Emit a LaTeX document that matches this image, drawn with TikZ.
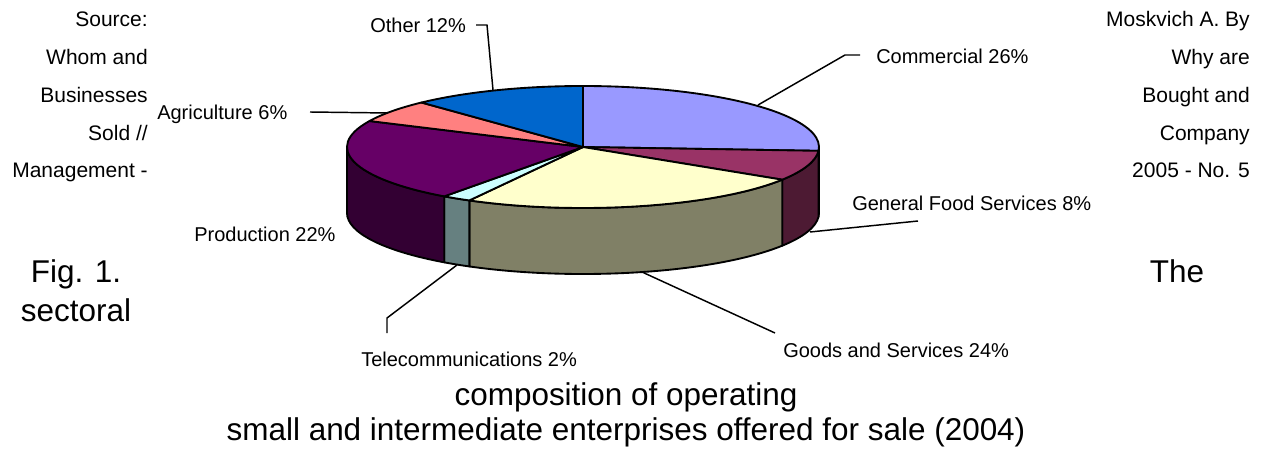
\documentclass[tikz,border=0pt]{standalone}
\usepackage{fontspec}
\setmainfont{Liberation Sans}
\usepackage{tikz}

\definecolor{comtop}{HTML}{9999FF}
\definecolor{comside}{HTML}{4D4D80}
\definecolor{foodtop}{HTML}{993366}
\definecolor{foodside}{HTML}{4D1A33}
\definecolor{goodtop}{HTML}{FFFFCC}
\definecolor{goodside}{HTML}{808066}
\definecolor{teltop}{HTML}{CCFFFF}
\definecolor{telside}{HTML}{668080}
\definecolor{prodtop}{HTML}{660066}
\definecolor{prodside}{HTML}{330033}
\definecolor{agrtop}{HTML}{FF8080}
\definecolor{othtop}{HTML}{0066CC}

\newcommand{\lblfont}{\fontsize{15}{18}\selectfont}
\newcommand{\srcfont}{\fontsize{15.75}{19}\selectfont}
\newcommand{\figfont}{\fontsize{23.6}{28}\selectfont}

\begin{document}
\begin{tikzpicture}[x=0.75pt,y=0.75pt]
\tikzstyle{every node}+=[inner sep=0pt]
\tikzstyle{pieface}=[draw=black,line width=1.4pt,line join=round]
\tikzstyle{pierim}=[x radius=236,y radius=61]
\tikzstyle{leader}=[draw=black,line width=1.1pt]
\tikzstyle{lbl}=[font=\lblfont,anchor=base west]
\tikzstyle{src}=[font=\srcfont,anchor=base east]
\tikzstyle{figtext}=[font=\figfont,anchor=base]
\useasboundingbox (0,0) rectangle (1263,450);
\coordinate (c) at (583,303);
% sides
\draw [pieface,fill=comside] (c) ++(0:236 and 61) arc[pierim,start angle=0,end angle=-3.6] -- ++(0,-66) arc[pierim,start angle=-3.6,end angle=0] -- cycle;
\draw [pieface,fill=foodside] (c) ++(-3.6:236 and 61) arc[pierim,start angle=-3.6,end angle=-32.4] -- ++(0,-66) arc[pierim,start angle=-32.4,end angle=-3.6] -- cycle;
\draw [pieface,fill=goodside] (c) ++(-32.4:236 and 61) arc[pierim,start angle=-32.4,end angle=-118.8] -- ++(0,-66) arc[pierim,start angle=-118.8,end angle=-32.4] -- cycle;
\draw [pieface,fill=telside] (c) ++(-118.8:236 and 61) arc[pierim,start angle=-118.8,end angle=-126] -- ++(0,-66) arc[pierim,start angle=-126,end angle=-118.8] -- cycle;
\draw [pieface,fill=prodside] (c) ++(-126:236 and 61) arc[pierim,start angle=-126,end angle=-180] -- ++(0,-66) arc[pierim,start angle=-180,end angle=-126] -- cycle;
% top
\draw [pieface,fill=comtop] (c) -- ++(90:236 and 61) arc[pierim,start angle=90,end angle=-3.6] -- cycle;
\draw [pieface,fill=foodtop] (c) -- ++(-3.6:236 and 61) arc[pierim,start angle=-3.6,end angle=-32.4] -- cycle;
\draw [pieface,fill=goodtop] (c) -- ++(-32.4:236 and 61) arc[pierim,start angle=-32.4,end angle=-118.8] -- cycle;
\draw [pieface,fill=teltop] (c) -- ++(-118.8:236 and 61) arc[pierim,start angle=-118.8,end angle=-126] -- cycle;
\draw [pieface,fill=prodtop] (c) -- ++(-126:236 and 61) arc[pierim,start angle=-126,end angle=-205.2] -- cycle;
\draw [pieface,fill=agrtop] (c) -- ++(-205.2:236 and 61) arc[pierim,start angle=-205.2,end angle=-226.8] -- cycle;
\draw [pieface,fill=othtop] (c) -- ++(-226.8:236 and 61) arc[pierim,start angle=-226.8,end angle=-270] -- cycle;
% labels
\node [lbl] (oth) at (370,417) {Other 12\%};
\node [lbl] (com) at (876,386) {Commercial 26\%};
\node [lbl] (agr) at (157,330) {Agriculture 6\%};
\node [lbl] (food) at (852,239) {General Food Services 8\%};
\node [lbl] (prod) at (194,208) {Production 22\%};
\node [lbl] (tel) at (361,84) {Telecommunications 2\%};
\node [lbl] (good) at (783,93) {Goods and Services 24\%};
% leader lines
\coordinate (oth1) at (476,425);
\coordinate (oth2) at (487,425);
\coordinate (oth3) at (493,360);
\draw [leader] (oth1) -- (oth2) -- (oth3);
\coordinate (com1) at (860,395);
\coordinate (com2) at (845,395);
\coordinate (com3) at (758,345);
\draw [leader] (com1) -- (com2) -- (com3);
\coordinate (agr1) at (310,338);
\coordinate (agr2) at (388,337);
\draw [leader] (agr1) -- (agr2);
\coordinate (food1) at (918,229);
\coordinate (food2) at (810,218);
\draw [leader] (food1) -- (food2);
\coordinate (good1) at (775,117);
\coordinate (good2) at (642,178);
\draw [leader] (good1) -- (good2);
\coordinate (tel1) at (387,117);
\coordinate (tel2) at (387,132);
\coordinate (tel3) at (457,185);
\draw [leader] (tel1) -- (tel2) -- (tel3);
% source, left and right
\node [src] (src1) at (148,423) {Source:};
\node [src] (src2) at (148,385.25) {Whom and};
\node [src] (src3) at (148,347.5) {Businesses};
\node [src] (src4) at (148,309.75) {Sold //};
\node [src] (src5) at (148,272) {Management -};
\node [src] (ref1) at (1250,423) {Moskvich A. By};
\node [src] (ref2) at (1250,385.25) {Why are};
\node [src] (ref3) at (1250,347.5) {Bought and};
\node [src] (ref4) at (1250,309.75) {Company};
\node [src] (ref5) at (1250,272) {2005 - No. 5};
% caption
\node [figtext] (fig) at (76,167) {Fig. 1.};
\node [figtext] (the) at (1177,167) {The};
\node [figtext] (sect) at (76,128) {sectoral};
\node [figtext] (comp) at (626,45) {composition of operating};
\node [figtext] (small) at (626,10) {small and intermediate enterprises offered for sale (2004)};
\end{tikzpicture}
\end{document}
